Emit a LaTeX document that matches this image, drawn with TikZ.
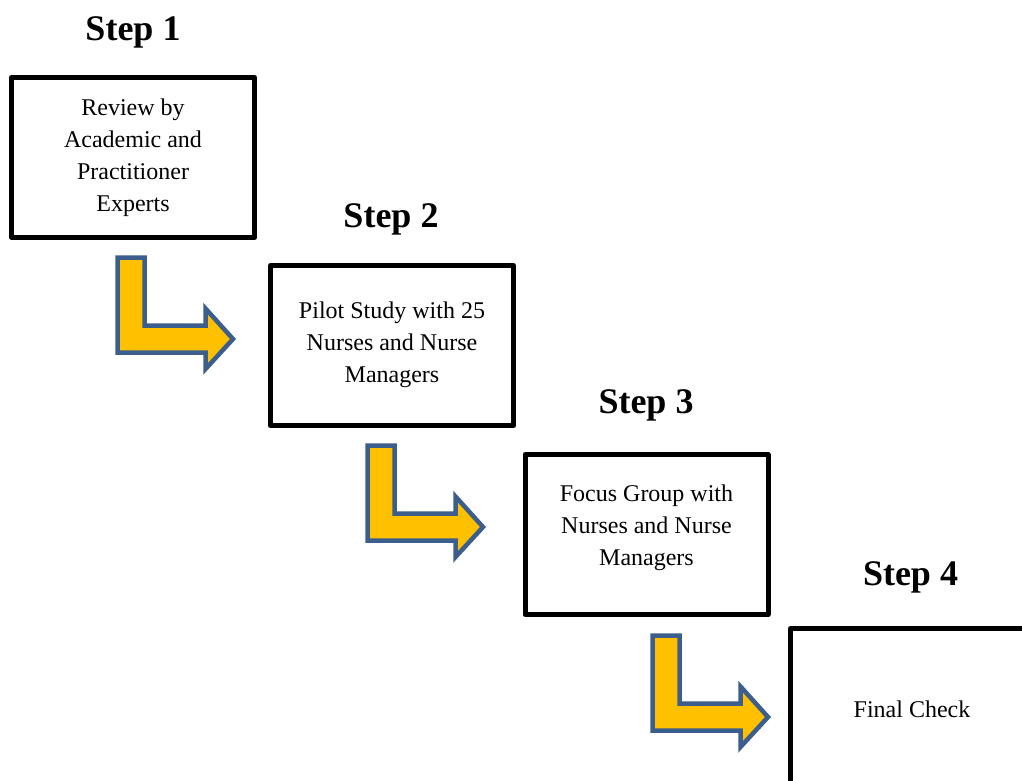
\documentclass[tikz,border=0pt]{standalone}
\usepackage{fontspec}
\setmainfont{Liberation Serif}
\definecolor{arrowfill}{HTML}{FFC000}
\definecolor{arrowline}{HTML}{3B5E8C}
\tikzset{
  stepbox/.style={draw=black, line width=5pt, line join=round, fill=white,
    minimum width=243pt, minimum height=160pt, inner sep=0pt},
  boxtext/.style={font=\fontsize{24}{32}\selectfont, align=center, inner sep=0pt},
  steptitle/.style={font=\fontsize{36}{43}\selectfont\bfseries, anchor=base, inner sep=0pt},
  arrowstyle/.style={fill=arrowfill, draw=arrowline, line width=4.5pt, line join=miter},
  bentarrow/.pic={
    \path[arrowstyle] (0,0) -- (27,0) -- (27,68) -- (88,68) -- (88,51)
      -- (115.5,81.5) -- (88,111.5) -- (88,95) -- (0,95) -- cycle;
  }
}
\begin{document}
\begin{tikzpicture}[x=1pt, y=-1pt]
  \useasboundingbox (0,0) rectangle (1022,780);
  \clip (0,0) rectangle (1022,780);

  % step boxes
  \node[stepbox] (b1) at (133,157.5) {};
  \node[stepbox] (b2) at (392,345.5) {};
  \node[stepbox] (b3) at (646.5,534.5) {};
  \node[stepbox] (b4) at (912,708.5) {};

  % box texts
  \node[boxtext] (t1) at (b1.center) {Review by\\Academic and\\Practitioner\\Experts};
  \node[boxtext] (t2) at ([yshift=1pt]b2.center) {Pilot Study with 25\\Nurses and Nurse\\Managers};
  \node[boxtext] (t3) at ([yshift=7pt]b3.center) {Focus Group with\\Nurses and Nurse\\Managers};
  \node[boxtext] (t4) at ([yshift=-1pt]b4.center) {Final Check};

  % step titles
  \node[steptitle] (s1) at (133,40) {Step 1};
  \node[steptitle] (s2) at (391,227) {Step 2};
  \node[steptitle] (s3) at (646,413) {Step 3};
  \node[steptitle] (s4) at (910.5,585) {Step 4};

  % bent block arrows between the steps
  \pic (a1) at (117.5,257.5) {bentarrow};
  \pic (a2) at (367.5,445.5) {bentarrow};
  \pic (a3) at (652.5,635.5) {bentarrow};
\end{tikzpicture}
\end{document}
